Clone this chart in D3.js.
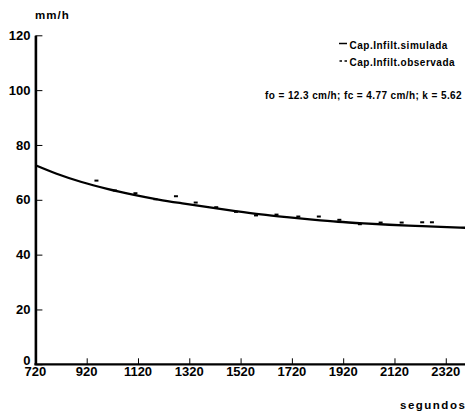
<!DOCTYPE html>
<html>
<head>
<meta charset="utf-8">
<script src="https://cdn.jsdelivr.net/npm/d3@7"></script>
<style>
  body { margin: 0; background: #fff; }
  svg { display: block; font-family: "Liberation Sans", Arial, sans-serif; font-weight: bold; }
</style>
</head>
<body>
<svg id="chart" width="465" height="412"></svg>
<script>
// simulated infiltration capacity
var simTime = [720, 800, 900, 1000, 1100, 1200, 1300, 1400, 1500, 1600, 1700, 1800, 1900, 2000, 2100, 2200, 2300, 2400];
var simRate = [72.6, 69.6, 66.5, 64.0, 61.9, 60.1, 58.6, 57.2, 55.9, 54.7, 53.7, 52.8, 52.0, 51.4, 50.9, 50.5, 50.1, 49.8];

// observed infiltration capacity (dashes)
var obsTime = [958, 1030, 1110, 1188, 1268, 1345, 1425, 1502, 1580, 1660, 1745, 1825, 1905, 1985, 2066, 2148, 2228, 2266];
var obsRate = [67.0, 63.4, 62.4, 60.2, 61.3, 59.0, 57.3, 55.6, 54.3, 54.6, 53.9, 53.9, 52.7, 51.1, 51.7, 51.7, 51.8, 51.8];

var xTicks = [920, 1120, 1320, 1520, 1720, 1920, 2120, 2320];
var xLabels = [720, 920, 1120, 1320, 1520, 1720, 1920, 2120, 2320];
var yTicks = [0, 20, 40, 60, 80, 100, 120];

var svg = d3.select("#chart");

var x = d3.scaleLinear().domain([720, 2400]).range([35.4, 466.3]);
var y = d3.scaleLinear().domain([0, 120]).range([364.3, 35.3]);

// x axis: ticks point up, labels below
var xAxis = d3.axisBottom(x)
    .tickValues(xTicks)
    .tickSizeInner(-6)
    .tickSizeOuter(0)
    .tickPadding(2)
    .tickFormat(d3.format("d"));

var gx = svg.append("g")
    .attr("transform", "translate(0," + y(0) + ")")
    .call(xAxis);
gx.select(".domain").remove();
gx.selectAll(".tick line").attr("stroke", "#000").attr("stroke-width", 1);
gx.selectAll(".tick text").remove();

gx.append("line")
    .attr("x1", x(720) - 1).attr("x2", 465)
    .attr("stroke", "#000").attr("stroke-width", 2.2);

gx.selectAll("text.xl")
    .data(xLabels)
  .enter().append("text")
    .attr("class", "xl")
    .attr("x", function(d) { return x(d); })
    .attr("y", 12)
    .attr("text-anchor", "middle")
    .attr("font-size", 13)
    .attr("fill", "#000")
    .text(function(d) { return d; });

// y axis: ticks point right
var yAxis = d3.axisLeft(y)
    .tickValues(yTicks)
    .tickSizeInner(-7)
    .tickSizeOuter(0)
    .tickPadding(5);

var gy = svg.append("g")
    .attr("transform", "translate(" + x(720) + ",0)")
    .call(yAxis);
gy.select(".domain").attr("stroke", "#000").attr("stroke-width", 2.6);
gy.selectAll(".tick line").attr("stroke", "#000").attr("stroke-width", 1);
gy.selectAll(".tick text")
    .attr("font-size", 13)
    .attr("font-family", "Liberation Sans, Arial, sans-serif")
    .attr("font-weight", "bold")
    .attr("fill", "#000")
    .attr("y", function(d) { return d === 0 ? -3.5 : 0; });

// simulated curve
var line = d3.line()
    .x(function(d, i) { return x(simTime[i]); })
    .y(function(d) { return y(d); })
    .curve(d3.curveMonotoneX);

svg.append("path")
    .datum(simRate)
    .attr("d", line)
    .attr("fill", "none")
    .attr("stroke", "#000")
    .attr("stroke-width", 2.3);

// observed dashes
svg.append("g").selectAll("line")
    .data(obsRate)
  .enter().append("line")
    .attr("x1", function(d, i) { return x(obsTime[i]) - 2; })
    .attr("x2", function(d, i) { return x(obsTime[i]) + 2; })
    .attr("y1", function(d) { return y(d); })
    .attr("y2", function(d) { return y(d); })
    .attr("stroke", "#000")
    .attr("stroke-width", 2);

// axis titles
svg.append("text")
    .attr("x", 35).attr("y", 19)
    .attr("font-size", 11.5)
    .attr("letter-spacing", 1)
    .text("mm/h");

svg.append("text")
    .attr("x", 400).attr("y", 409)
    .attr("font-size", 11.5)
    .attr("letter-spacing", 1.5)
    .text("segundos");

// legend
var leg = svg.append("g");
leg.append("line")
    .attr("x1", 339).attr("x2", 347).attr("y1", 43.5).attr("y2", 43.5)
    .attr("stroke", "#000").attr("stroke-width", 1.5);
leg.append("line")
    .attr("x1", 339.5).attr("x2", 347).attr("y1", 61).attr("y2", 61)
    .attr("stroke", "#000").attr("stroke-width", 1.5)
    .attr("stroke-dasharray", "2.5,2.5");
leg.append("text")
    .attr("x", 349.5).attr("y", 48.5)
    .attr("font-size", 10)
    .attr("letter-spacing", 0.5)
    .text("Cap.Infilt.simulada");
leg.append("text")
    .attr("x", 349.5).attr("y", 66)
    .attr("font-size", 10)
    .attr("letter-spacing", 0.5)
    .text("Cap.Infilt.observada");

svg.append("text")
    .attr("x", 462).attr("y", 99)
    .attr("text-anchor", "end")
    .attr("font-size", 10)
    .attr("letter-spacing", 0.4)
    .text("fo = 12.3 cm/h; fc = 4.77 cm/h; k = 5.62");
</script>
</body>
</html>
